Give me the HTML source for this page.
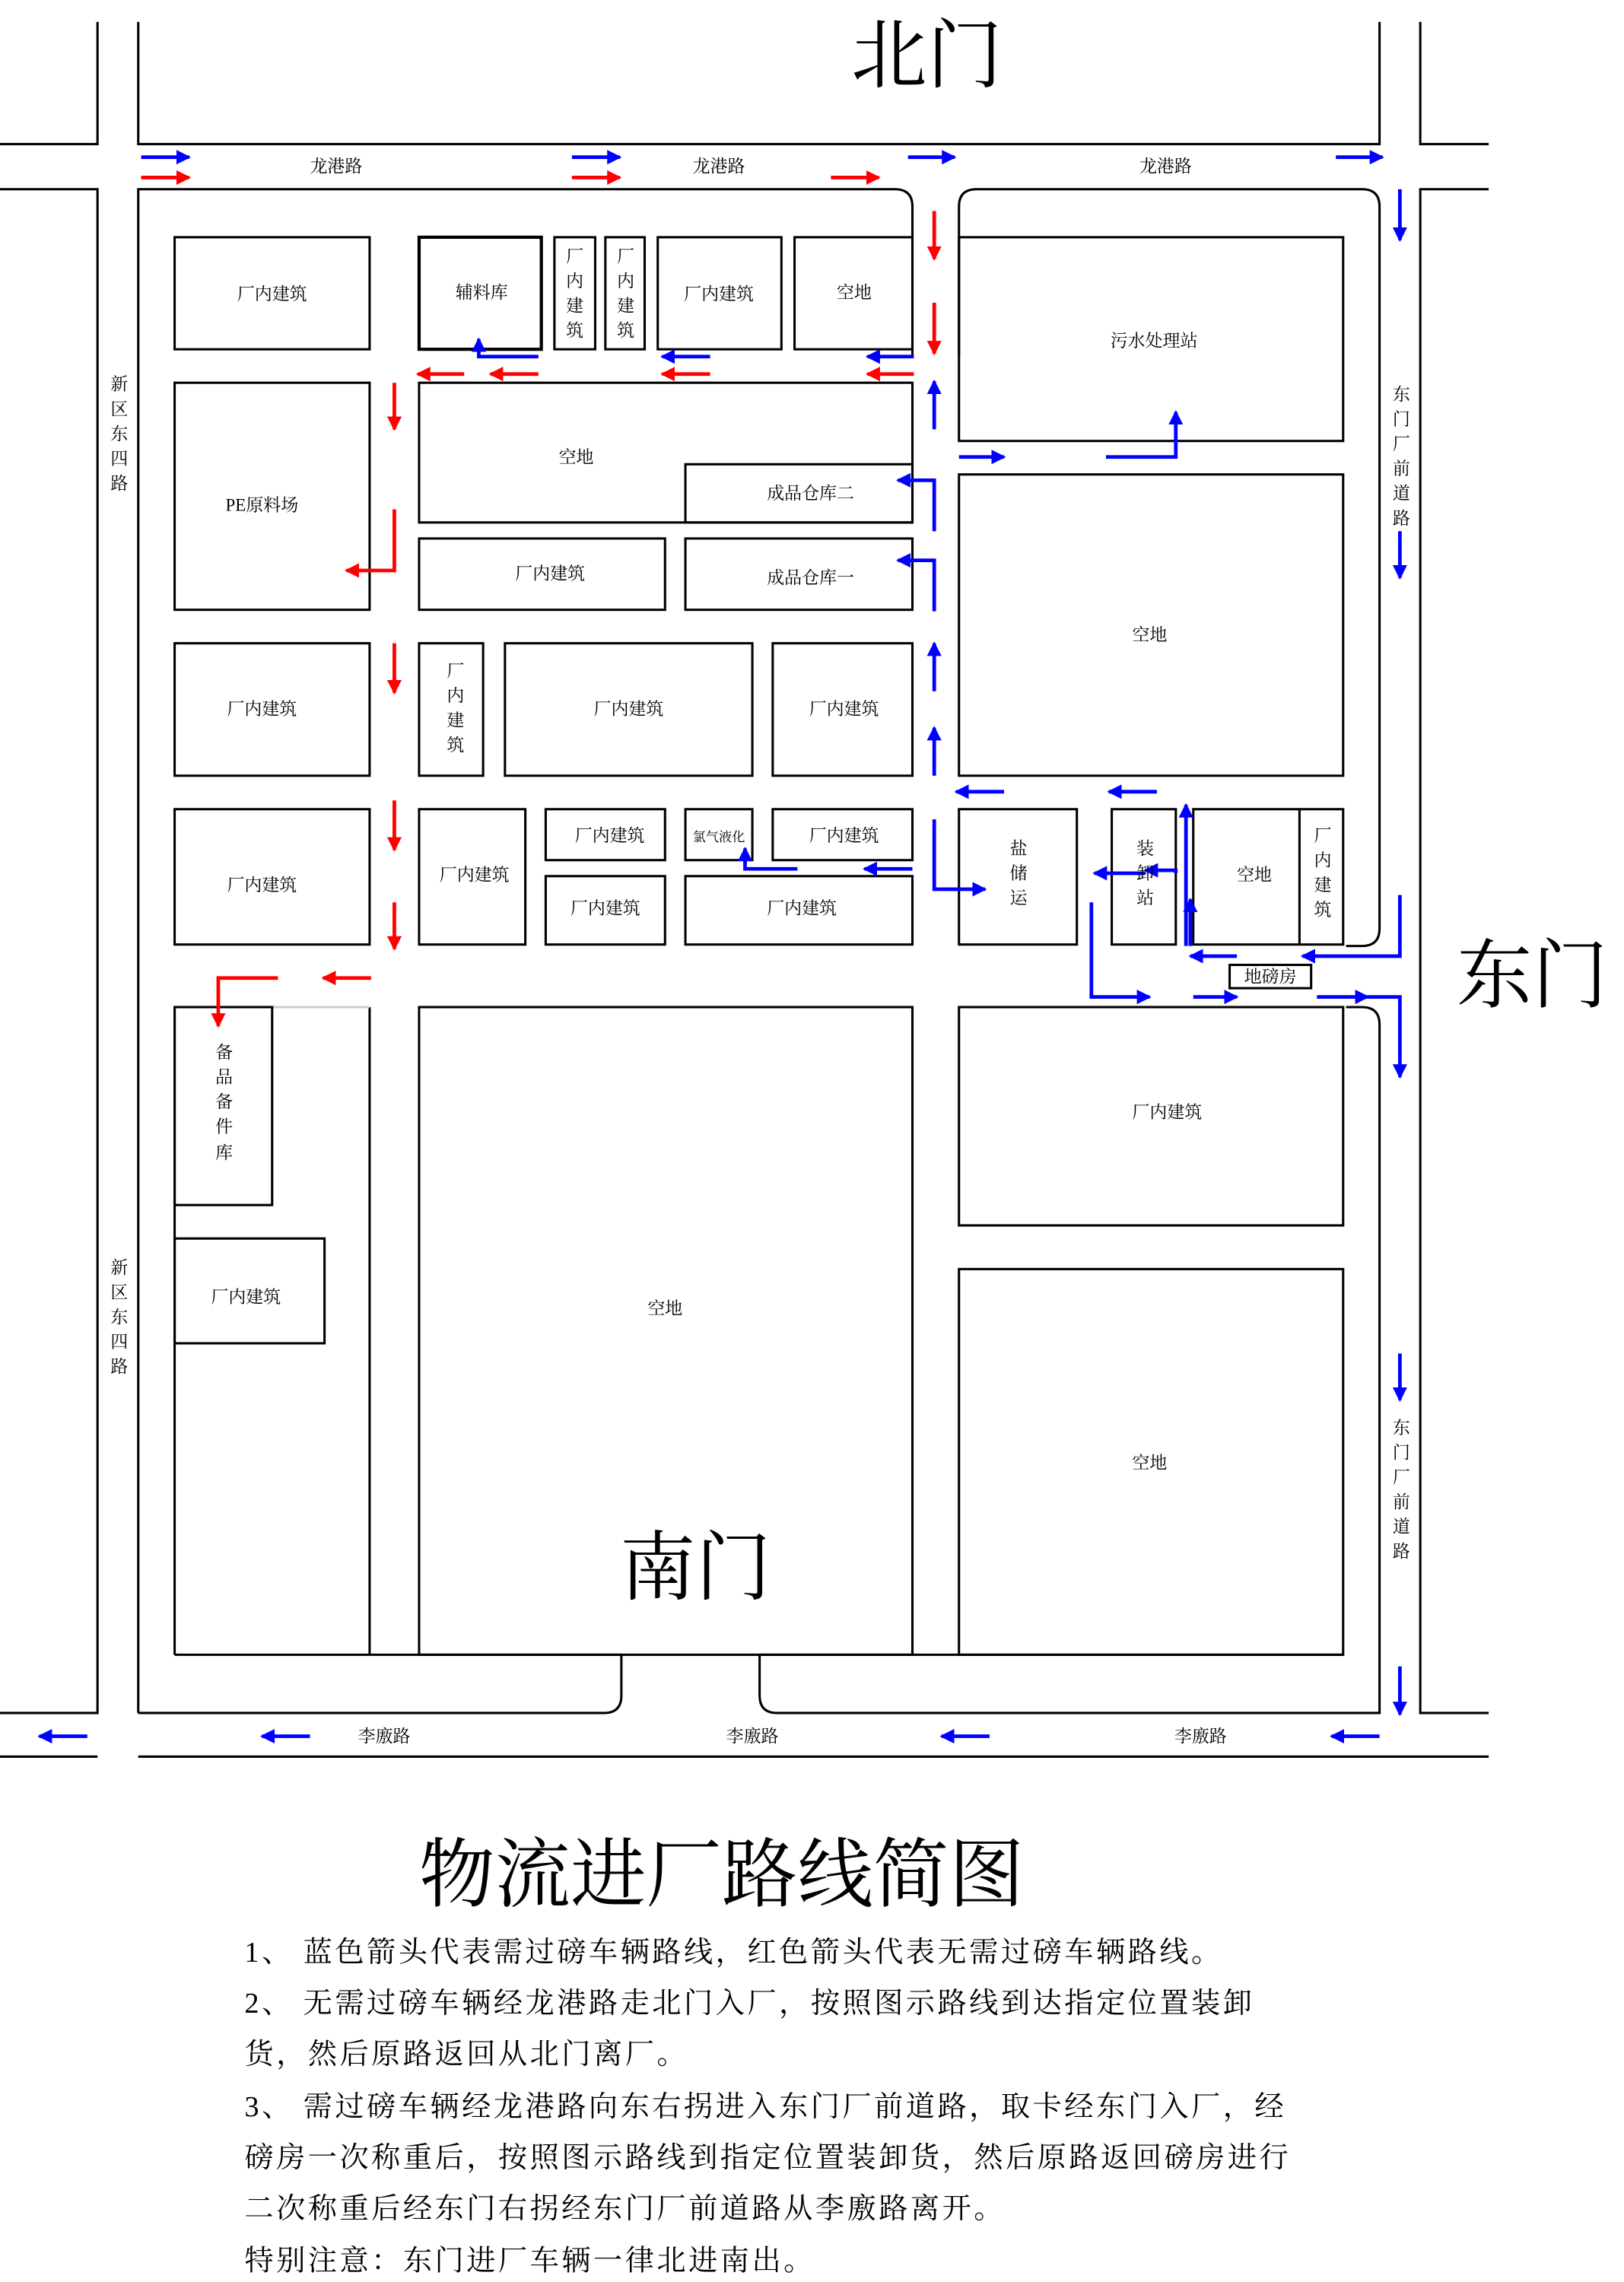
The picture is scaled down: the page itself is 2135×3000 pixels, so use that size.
<!DOCTYPE html>
<html><head><meta charset="utf-8"><style>
html,body{margin:0;padding:0;background:#fff;}
svg{display:block}
text{font-family:"Liberation Serif","Noto Serif CJK SC","Noto Sans CJK SC",serif;fill:#000}
</style></head><body>
<svg width="2135" height="3000" viewBox="0 0 1116 1568" preserveAspectRatio="none" xmlns="http://www.w3.org/2000/svg">
<defs>
<marker id="ab" markerWidth="4" markerHeight="4" refX="3.5" refY="2" orient="auto" markerUnits="strokeWidth"><path d="M0,0 L4,2 L0,4 z" fill="#0000ff"/></marker>
<marker id="ar" markerWidth="4" markerHeight="4" refX="3.5" refY="2" orient="auto" markerUnits="strokeWidth"><path d="M0,0 L4,2 L0,4 z" fill="#ff0000"/></marker>
</defs>
<g fill="none" stroke="#000" stroke-width="1.6">
<path d="M67,15 V99 H0"/><path d="M95,15 V99 H948 V15"/><path d="M976,15 V99 H1023"/>
<path d="M0,130 H67 V1177 H0"/><path d="M1023,130 H976 V1177 H1023"/>
<path d="M0,1207 H67 M95,1207 H1023"/>
<path d="M95,1177 V130 H615 Q627,130 627,142 V245"/>
<path d="M659,245 V142 Q659,130 671,130 H936 Q948,130 948,142 V638 Q948,650 936,650 H925"/>
<path d="M925,692 H936 Q948,692 948,704 V1177 H534 Q522,1177 522,1165 V1137"/>
<path d="M95,1177 H415 Q427,1177 427,1165 V1137"/>
<path d="M120,1137 H427 M522,1137 H923"/>
<rect x="120" y="163" width="134" height="77"/>
<rect x="288" y="163" width="84" height="77" stroke-width="2.2"/>
<rect x="381" y="163" width="28" height="77"/>
<rect x="416" y="163" width="27" height="77"/>
<rect x="452" y="163" width="85" height="77"/>
<rect x="546" y="163" width="81" height="77"/>
<rect x="659" y="163" width="264" height="140"/>
<rect x="120" y="263" width="134" height="156"/>
<rect x="288" y="263" width="339" height="96"/>
<rect x="471" y="319" width="156" height="40"/>
<rect x="288" y="370" width="169" height="49"/>
<rect x="471" y="370" width="156" height="49"/>
<rect x="659" y="326" width="264" height="207"/>
<rect x="120" y="442" width="134" height="91"/>
<rect x="288" y="442" width="44" height="91"/>
<rect x="347" y="442" width="170" height="91"/>
<rect x="531" y="442" width="96" height="91"/>
<rect x="120" y="556" width="134" height="93"/>
<rect x="288" y="556" width="73" height="93"/>
<rect x="375" y="556" width="82" height="35"/>
<rect x="375" y="602" width="82" height="47"/>
<rect x="471" y="556" width="46" height="35"/>
<rect x="531" y="556" width="96" height="35"/>
<rect x="471" y="602" width="156" height="47"/>
<rect x="659" y="556" width="81" height="93"/>
<rect x="764" y="556" width="44" height="93"/>
<rect x="820" y="556" width="103" height="93"/>
<line x1="893" y1="556" x2="893" y2="649"/>
<rect x="845" y="663" width="56" height="16"/>
<path d="M120,692 V1137 M254,692 V1137"/>
<line x1="120" y1="692" x2="254" y2="692" stroke="#ccc"/>
<rect x="120" y="692" width="67" height="136"/>
<rect x="120" y="851" width="103" height="72"/>
<rect x="288" y="692" width="339" height="445"/>
<rect x="659" y="692" width="264" height="150"/>
<rect x="659" y="872" width="264" height="265"/>
</g>
<g fill="none" stroke="#0000ff" stroke-width="2.5" marker-end="url(#ab)">
<path d="M97,108 H130"/><path d="M393,108 H426"/><path d="M624,108 H656"/><path d="M918,108 H950"/>
<path d="M370,245 H329 V233"/><path d="M488,245 H455"/><path d="M628,245 H596"/>
<path d="M642,295 V262"/><path d="M642,365 V330 H617"/><path d="M642,420 V385 H617"/>
<path d="M642,475 V442"/><path d="M642,533 V500"/><path d="M642,563 V611 H677"/>
<path d="M659,314 H690"/><path d="M760,314 H808 V283"/>
<path d="M690,544 H657"/><path d="M795,544 H762"/>
<path d="M627,597 H594"/><path d="M548,597 H512 V583"/>
<path d="M750,620 V685 H790"/>
<path d="M787,600 H752"/><path d="M808,600 V598 H787"/>
<path d="M815,650 V553"/><path d="M818,650 V618"/>
<path d="M962,130 V165"/><path d="M962,365 V397"/><path d="M962,615 V657 H895"/><path d="M850,657 H818"/>
<path d="M820,685 H850"/><path d="M905,685 H940"/><path d="M940,685 H962 V740"/>
<path d="M962,930 V962"/><path d="M962,1145 V1178"/>
<path d="M60,1193 H27"/><path d="M213,1193 H180"/><path d="M680,1193 H647"/><path d="M948,1193 H915"/>
</g>
<g fill="none" stroke="#ff0000" stroke-width="2.5" marker-end="url(#ar)">
<path d="M97,122 H130"/><path d="M393,122 H426"/><path d="M571,122 H604"/>
<path d="M642,145 V178"/><path d="M642,208 V243"/>
<path d="M319,257 H287"/><path d="M370,257 H337"/><path d="M488,257 H455"/><path d="M628,257 H596"/>
<path d="M271,263 V295"/><path d="M271,350 V392 H238"/><path d="M271,442 V476"/><path d="M271,550 V584"/><path d="M271,620 V652"/>
<path d="M191,672 H150 V705"/><path d="M255,672 H222"/>
</g>
<g font-size="12" text-anchor="middle">
<text x="231" y="118">龙港路</text><text x="494" y="118">龙港路</text><text x="801" y="118">龙港路</text>
<text x="264" y="1197">李廒路</text><text x="517" y="1197">李廒路</text><text x="825" y="1197">李廒路</text>
<text x="187" y="206">厂内建筑</text><text x="331" y="205">辅料库</text><text x="494" y="206">厂内建筑</text><text x="587" y="205">空地</text>
<text x="793" y="238">污水处理站</text><text x="180" y="351">PE原料场</text><text x="396" y="318">空地</text>
<text x="557" y="343">成品仓库二</text><text x="378" y="398">厂内建筑</text><text x="557" y="401">成品仓库一</text>
<text x="790" y="440">空地</text>
<text x="180" y="491">厂内建筑</text><text x="432" y="491">厂内建筑</text><text x="580" y="491">厂内建筑</text>
<text x="180" y="612">厂内建筑</text><text x="326" y="605">厂内建筑</text><text x="419" y="578">厂内建筑</text>
<text x="416" y="628">厂内建筑</text><text x="494" y="578" font-size="9">氯气液化</text><text x="580" y="578">厂内建筑</text>
<text x="551" y="628">厂内建筑</text><text x="862" y="605">空地</text><text x="873" y="675">地磅房</text>
<text x="802" y="768">厂内建筑</text><text x="169" y="895">厂内建筑</text><text x="457" y="903">空地</text><text x="790" y="1009">空地</text>
</g>
<g font-size="12" text-anchor="middle">
<text x="395" y="180">厂</text><text x="395" y="197">内</text><text x="395" y="214">建</text><text x="395" y="231">筑</text>
<text x="430" y="180">厂</text><text x="430" y="197">内</text><text x="430" y="214">建</text><text x="430" y="231">筑</text>
<text x="313" y="465">厂</text><text x="313" y="482">内</text><text x="313" y="499">建</text><text x="313" y="516">筑</text>
<text x="700" y="587">盐</text><text x="700" y="604">储</text><text x="700" y="621">运</text>
<text x="787" y="587">装</text><text x="787" y="604">卸</text><text x="787" y="621">站</text>
<text x="909" y="578">厂</text><text x="909" y="595">内</text><text x="909" y="612">建</text><text x="909" y="629">筑</text>
<text x="154" y="727">备</text><text x="154" y="744">品</text><text x="154" y="761">备</text><text x="154" y="778">件</text><text x="154" y="796">库</text>
<text x="82" y="268">新</text><text x="82" y="285">区</text><text x="82" y="302">东</text><text x="82" y="319">四</text><text x="82" y="336">路</text>
<text x="82" y="875">新</text><text x="82" y="892">区</text><text x="82" y="909">东</text><text x="82" y="926">四</text><text x="82" y="943">路</text>
<text x="963" y="275">东</text><text x="963" y="292">门</text><text x="963" y="309">厂</text><text x="963" y="326">前</text><text x="963" y="343">道</text><text x="963" y="360">路</text>
<text x="963" y="985">东</text><text x="963" y="1002">门</text><text x="963" y="1019">厂</text><text x="963" y="1036">前</text><text x="963" y="1053">道</text><text x="963" y="1070">路</text>
</g>
<text x="637" y="56" font-size="52" text-anchor="middle">北门</text>
<text x="1053" y="688" font-size="52" text-anchor="middle">东门</text>
<text x="478" y="1095" font-size="52" text-anchor="middle">南门</text>
<text x="496" y="1306" font-size="52" text-anchor="middle">物流进厂路线简图</text>
<g font-size="20" letter-spacing="1.8">
<text x="168" y="1348">1、  蓝色箭头代表需过磅车辆路线，红色箭头代表无需过磅车辆路线。</text>
<text x="168" y="1383">2、  无需过磅车辆经龙港路走北门入厂，按照图示路线到达指定位置装卸</text>
<text x="168" y="1418">货，然后原路返回从北门离厂。</text>
<text x="168" y="1454">3、  需过磅车辆经龙港路向东右拐进入东门厂前道路，取卡经东门入厂，经</text>
<text x="168" y="1489">磅房一次称重后，按照图示路线到指定位置装卸货，然后原路返回磅房进行</text>
<text x="168" y="1524">二次称重后经东门右拐经东门厂前道路从李廒路离开。</text>
<text x="168" y="1560">特别注意：东门进厂车辆一律北进南出。</text>
</g>
</svg>
</body></html>
